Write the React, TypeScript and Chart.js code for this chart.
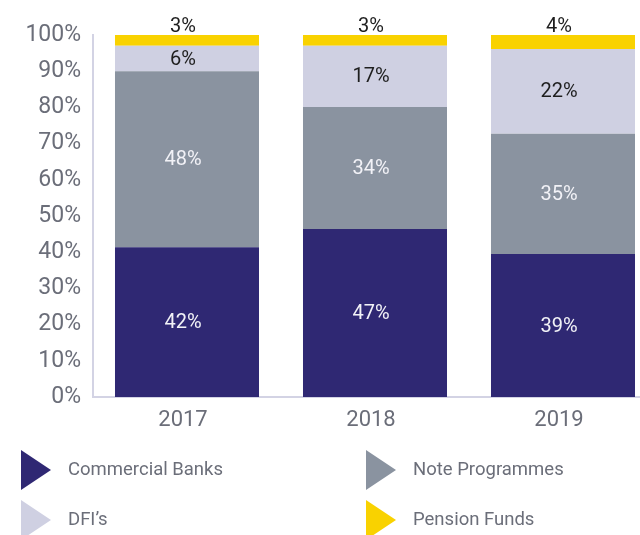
import React, { useEffect, useRef } from "react";
import { Chart, registerables } from "chart.js";

Chart.register(...registerables);

const years = ["2017", "2018", "2019"];
const commercialBanks = [41.4, 46.4, 39.5];
const noteProgrammes = [48.6, 33.7, 33.2];
const dfis = [7.0, 16.9, 23.4];
const pensionFunds = [3.0, 3.0, 3.9];

const commercialBanksLabels = ["42%", "47%", "39%"];
const noteProgrammesLabels = ["48%", "34%", "35%"];
const dfisLabels = ["6%", "17%", "22%"];
const pensionFundsLabels = ["3%", "3%", "4%"];

const seriesNames = ["Commercial Banks", "Note Programmes", "DFI\u2019s", "Pension Funds"];
const seriesColors = ["#2f2873", "#8a93a0", "#cfd0e2", "#f9d200"];

const FONT = "Roboto, 'DejaVu Sans', sans-serif";
const GRAY = "#6b6e79";
const AXIS = "#d3d3e4";

const valueLabels = {
  id: "valueLabels",
  afterDatasetsDraw(chart: any) {
    const ctx = chart.ctx;
    chart.data.datasets.forEach((ds: any, di: number) => {
      const meta = chart.getDatasetMeta(di);
      meta.data.forEach((bar: any, i: number) => {
        const { x, y, base } = bar.getProps(["x", "y", "base"], true);
        const text = ds.valueLabels[i];
        ctx.save();
        ctx.font = `20px ${FONT}`;
        ctx.fillStyle = ds.labelColor;
        ctx.textAlign = "center";
        if (ds.labelOutside) {
          ctx.textBaseline = "bottom";
          ctx.fillText(text, x - 4, y + 2);
        } else {
          ctx.textBaseline = "middle";
          ctx.fillText(text, x - 4, (y + base) / 2 + 1);
        }
        ctx.restore();
      });
    });
  },
};

const triangleLegend = {
  id: "triangleLegend",
  afterDraw(chart: any) {
    const ctx = chart.ctx;
    const colX = [21, 366];
    const rowY = [470, 520];
    chart.data.datasets.forEach((ds: any, i: number) => {
      const x = colX[i % 2];
      const cy = rowY[Math.floor(i / 2)];
      ctx.save();
      ctx.fillStyle = ds.backgroundColor;
      ctx.beginPath();
      ctx.moveTo(x, cy - 20);
      ctx.lineTo(x + 30, cy);
      ctx.lineTo(x, cy + 20);
      ctx.closePath();
      ctx.fill();
      ctx.font = `18.5px ${FONT}`;
      ctx.fillStyle = GRAY;
      ctx.textAlign = "left";
      ctx.textBaseline = "middle";
      ctx.fillText(ds.label, x + 47, cy);
      ctx.restore();
    });
  },
};

export default function App() {
  const canvasRef = useRef<HTMLCanvasElement | null>(null);

  useEffect(() => {
    if (!canvasRef.current) return;
    const values = [commercialBanks, noteProgrammes, dfis, pensionFunds];
    const labels = [commercialBanksLabels, noteProgrammesLabels, dfisLabels, pensionFundsLabels];
    const labelColors = ["#f2f2f7", "#f2f2f7", "#1e1e1e", "#1e1e1e"];
    const chart = new Chart(canvasRef.current, {
      type: "bar",
      data: {
        labels: years,
        datasets: values.map((v, i) => ({
          label: seriesNames[i],
          data: v,
          backgroundColor: seriesColors[i],
          borderWidth: 0,
          barPercentage: 0.766,
          categoryPercentage: 1,
          valueLabels: labels[i],
          labelColor: labelColors[i],
          labelOutside: i === 3,
        })) as any,
      },
      options: {
        animation: false,
        responsive: false,
        layout: { padding: { left: 0, right: 3, top: 35, bottom: 0 } },
        plugins: { legend: { display: false }, tooltip: { enabled: false } },
        scales: {
          x: {
            stacked: true,
            grid: { display: false, drawTicks: false },
            border: { color: AXIS, width: 2 },
            ticks: { color: GRAY, font: { family: FONT, size: 22 }, padding: 10, labelOffset: -4 },
            afterFit: (s: any) => {
              s.height = 138;
            },
          },
          y: {
            stacked: true,
            min: 0,
            max: 100,
            grid: { display: false, drawTicks: false },
            border: { color: AXIS, width: 2 },
            ticks: {
              stepSize: 10,
              color: GRAY,
              font: { family: FONT, size: 23 },
              padding: 12,
              callback: (v: any) => `${v}%`,
            },
            afterFit: (s: any) => {
              s.width = 93;
            },
          },
        },
      },
      plugins: [valueLabels, triangleLegend],
    });
    return () => chart.destroy();
  }, []);

  return (
    <div
      style={{
        position: "fixed",
        left: 0,
        top: 0,
        width: 640,
        height: 535,
        overflow: "hidden",
        background: "#fff",
      }}
    >
      <canvas ref={canvasRef} width={660} height={535} style={{ display: "block" }} />
    </div>
  );
}
